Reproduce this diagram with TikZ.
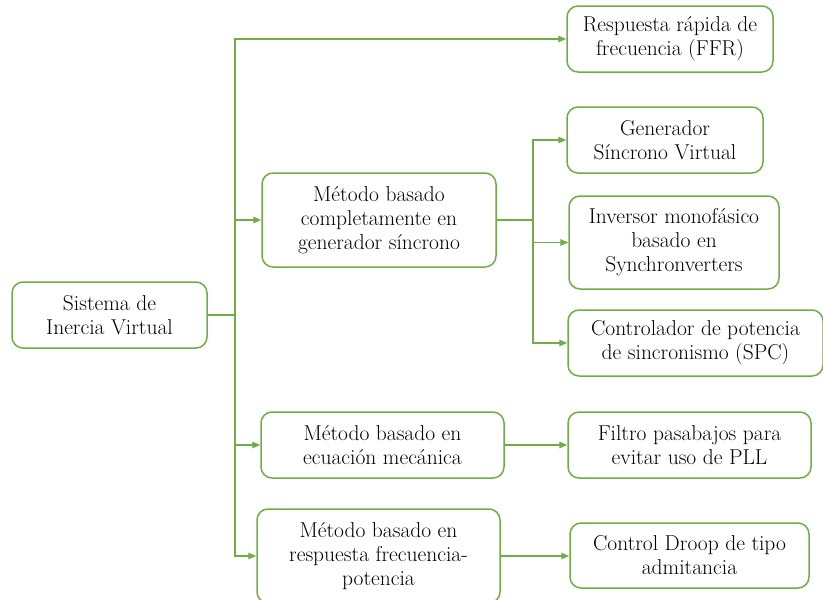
\documentclass[tikz,border=0pt]{standalone}
\usetikzlibrary{arrows.meta}
\definecolor{grn}{HTML}{70AD47}
\begin{document}
\begin{tikzpicture}[x=1pt,y=-1pt,
  box/.style={draw=grn,line width=1.5pt,rounded corners=11pt,align=center,
    inner sep=0pt,font=\fontsize{21.5}{24}\selectfont},
  arr/.style={draw=grn,line width=1.5pt,-{Triangle[length=8pt,width=6.5pt]}},
  ln/.style={draw=grn,line width=1.5pt}]
\useasboundingbox (0,0) rectangle (823,600);
\node[box,minimum width=195pt,minimum height=66pt] (sis) at (109.5,315) {Sistema de\\Inercia Virtual};
\node[box,minimum width=206pt,minimum height=66pt] (ffr) at (670,39) {Respuesta rápida de\\frecuencia (FFR)};
\node[box,minimum width=234pt,minimum height=94pt] (m1) at (379,220) {Método basado\\completamente en\\generador síncrono};
\node[box,minimum width=196pt,minimum height=66pt] (gen) at (665,140) {Generador\\Síncrono Virtual};
\node[box,minimum width=210pt,minimum height=93pt] (inv) at (674,242.5) {Inversor monofásico\\basado en\\Synchronverters};
\node[box,minimum width=255pt,minimum height=66pt] (spc) at (695.5,343) {Controlador de potencia\\de sincronismo (SPC)};
\node[box,minimum width=243pt,minimum height=66pt] (m2) at (382.5,445) {Método basado en\\ecuación mecánica};
\node[box,minimum width=243pt,minimum height=66pt] (fil) at (689.5,445) {Filtro pasabajos para\\evitar uso de PLL};
\node[box,minimum width=243pt,minimum height=94pt] (m3) at (378.5,556) {Método basado en\\respuesta frecuencia-\\potencia};
\node[box,minimum width=239pt,minimum height=65pt] (dro) at (689.5,555.5) {Control Droop de tipo\\admitancia};
% trunk
\draw[ln] (sis.east) -- ++(27,0) coordinate (j);
\draw[arr] (j) |- (ffr.west);
\draw[arr] (j) |- (m1.west);
\draw[arr] (j) |- (m2.west);
\draw[arr] (j) |- (m3.west);
% branch of m1
\draw[ln] (m1.east) -- ++(36,0) coordinate (k);
\draw[arr] (k) |- (gen.west);
\draw[arr] (k) |- (inv.west);
\draw[arr] (k) |- (spc.west);
\draw[arr] (m2.east) -- (fil.west);
\draw[arr] (m3.east) -- (m3.east -| dro.west);
\end{tikzpicture}
\end{document}
